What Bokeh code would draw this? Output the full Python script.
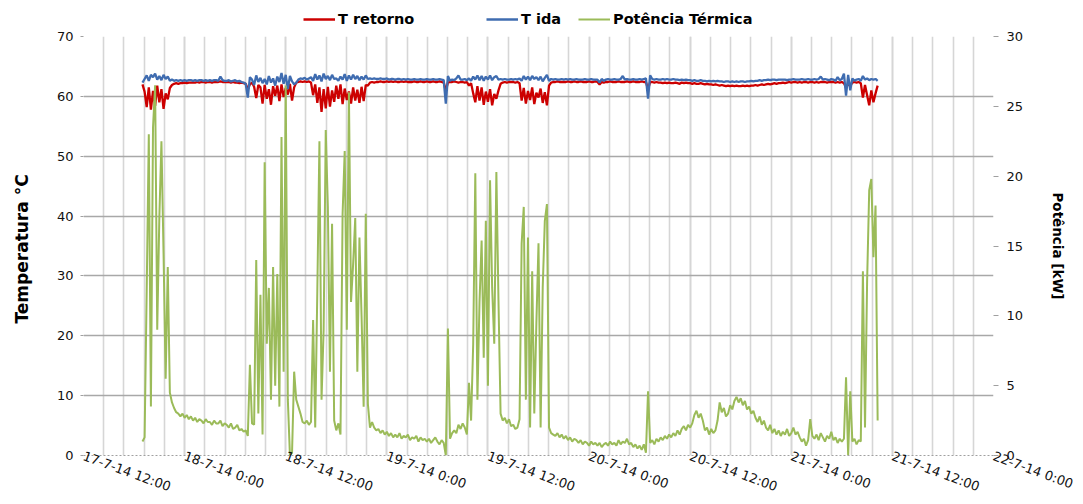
import numpy as np
from bokeh.plotting import figure
from bokeh.layouts import column
from bokeh.models import Range1d, LinearAxis, FixedTicker, Legend, LegendItem
from bokeh.embed import file_html
from bokeh.resources import INLINE

# time base: hours after 17-7-14 12:00, one reading every 15 minutes
start_hour = 7.0
step_hour = 0.25

# Potência Térmica [kW]
power = [
    1.0, 1.3, 11.8, 23.0, 3.5, 23.5, 26.5, 9.0,
    17.0, 22.5, 14.5, 5.5, 13.5, 4.5, 3.8, 3.4,
    3.1, 3.0, 2.8, 3.0, 2.7, 2.9, 2.6, 2.8,
    2.5, 2.7, 2.4, 2.6, 2.5, 2.3, 2.6, 2.4,
    2.4, 2.2, 2.5, 2.3, 2.3, 2.5, 2.1, 2.3,
    2.2, 2.0, 2.3, 1.9, 2.0, 2.2, 1.8, 1.9,
    1.7, 1.8, 1.4, 6.5, 2.3, 2.2, 14.0, 3.0,
    11.5, 1.5, 21.0, 8.0, 12.0, 4.0, 13.5, 5.0,
    13.0, 3.5, 22.8, 6.0, 26.5, 4.0, 0.0, 0.2,
    6.0, 4.0, 3.5, 3.0, 2.4, 2.3, 2.5, 2.2,
    2.4, 9.7, 2.0, 11.8, 22.5, 4.0, 9.0, 23.3,
    17.8, 6.0, 16.6, 2.5, 1.8, 2.3, 1.5, 17.3,
    21.8, 9.0, 26.0, 11.0, 13.7, 17.0, 6.0, 15.6,
    10.0, 3.5, 17.3, 3.7, 2.0, 2.4, 2.0, 1.8,
    1.9, 1.6, 1.8, 1.5, 1.7, 1.4, 1.6, 1.3,
    1.5, 1.3, 1.6, 1.2, 1.4, 1.3, 1.5, 1.1,
    1.3, 1.2, 1.4, 1.0, 1.3, 1.1, 1.2, 1.0,
    1.2, 0.9, 1.1, 1.3, 1.0, 0.8, 1.1, 0.9,
    0.0, 9.1, 1.2, 1.6, 1.8, 1.6, 2.2, 1.9,
    2.3, 2.0, 1.5, 5.2, 2.5, 8.0, 20.2, 4.0,
    11.0, 15.4, 7.0, 16.8, 5.0, 19.7, 12.0, 8.0,
    20.3, 11.1, 3.0, 2.5, 2.7, 2.3, 2.6, 2.1,
    2.2, 1.9, 2.0, 2.6, 15.2, 17.8, 4.0, 15.6,
    2.0, 13.2, 3.0, 9.5, 15.2, 2.0, 12.0, 16.8,
    18.0, 2.0, 1.6, 1.5, 1.4, 1.6, 1.3, 1.5,
    1.2, 1.4, 1.1, 1.3, 1.0, 1.2, 1.1, 0.9,
    1.1, 0.8, 1.0, 0.9, 0.7, 1.0, 0.8, 0.9,
    0.7, 0.9, 0.6, 0.8, 0.9, 0.7, 1.0, 0.8,
    0.9, 0.7, 1.1, 0.8, 1.0, 0.9, 1.2, 0.8,
    0.9, 0.6, 0.8, 0.5, 0.7, 0.4, 0.8, 0.2,
    4.6, 0.9, 1.1, 0.8, 1.2, 1.0, 1.3, 1.1,
    1.4, 1.2, 1.5, 1.3, 1.6, 1.4, 1.8, 1.5,
    1.9, 2.1, 1.8, 2.2, 2.0, 2.3, 2.9, 3.2,
    2.7, 3.0, 2.5, 1.8, 2.0, 1.5, 1.9, 1.6,
    1.8, 2.5, 3.8, 3.1, 3.4, 2.8, 3.0, 3.6,
    3.3, 3.9, 4.2, 3.8, 4.1, 3.6, 3.9, 3.3,
    3.5, 3.0, 3.2, 2.7, 2.4, 2.8, 2.2, 2.5,
    2.0, 1.8, 2.2, 1.6, 1.9, 1.5, 1.8, 1.4,
    1.7, 1.5, 1.9, 1.4, 1.6, 2.0, 1.5, 1.7,
    1.3, 1.0, 1.2, 0.7, 1.1, 2.6, 1.4, 1.2,
    1.5, 1.1, 1.6, 1.3, 1.0, 1.4, 1.2, 1.7,
    1.1, 1.3, 0.9, 1.2, 1.0, 1.2, 5.6, 0.0,
    4.6, 1.0, 1.2, 0.8, 1.1, 1.0, 13.2, 2.0,
    12.5, 19.0, 19.8, 14.2, 17.9, 2.5,
]

# T ida [°C]
t_ida = [
    62.3, 62.9, 63.5, 62.6, 63.6, 63.2, 63.8, 62.8,
    63.4, 62.7, 63.6, 62.9, 63.3, 62.6, 62.8, 62.6,
    62.7, 62.6, 62.7, 62.6, 62.7, 62.6, 62.7, 62.7,
    62.6, 62.7, 62.6, 62.7, 62.7, 62.6, 62.7, 62.6,
    62.7, 62.6, 62.7, 62.7, 62.6, 63.3, 62.7, 62.6,
    62.6, 62.7, 62.5, 62.6, 62.7, 62.5, 62.6, 62.4,
    62.3, 62.1, 59.8, 63.2, 62.8, 61.9, 63.5, 62.4,
    63.1, 62.2, 62.9, 62.0, 63.4, 62.3, 63.0, 61.8,
    63.3, 62.4, 63.9, 62.1, 63.6, 61.2, 63.4, 62.5,
    62.0, 62.3, 62.8, 63.0, 62.9, 63.1, 62.8, 63.0,
    63.2, 62.6, 63.7, 62.8, 63.5, 62.5, 63.8, 62.9,
    63.4, 62.7, 63.6, 62.9, 63.0, 62.6, 63.3, 62.8,
    63.7, 62.6, 63.5, 62.8, 63.6, 62.9, 63.4, 62.7,
    63.3, 62.8, 63.5, 62.9, 63.0, 62.9, 63.0, 62.9,
    62.9, 63.0, 62.9, 62.9, 63.0, 62.8, 62.9, 62.9,
    62.8, 62.9, 62.9, 62.8, 62.9, 62.8, 62.9, 62.8,
    62.8, 62.9, 62.8, 62.8, 62.9, 62.8, 62.8, 62.9,
    62.8, 62.8, 62.9, 62.8, 62.8, 62.9, 62.8, 62.7,
    58.8, 63.4, 62.6, 62.8, 62.7, 63.0, 63.5, 62.8,
    62.8, 62.9, 62.7, 63.0, 62.6, 63.3, 62.8, 63.5,
    62.7, 63.4, 62.6, 63.3, 62.8, 63.5, 62.7, 63.2,
    63.4, 62.8, 62.9, 62.8, 62.9, 62.8, 62.8, 62.9,
    62.8, 62.9, 62.8, 63.0, 62.6, 63.4, 62.8, 63.3,
    62.7, 63.4, 62.9, 63.2, 62.7, 63.3, 62.5, 63.1,
    63.6, 62.6, 62.9, 62.8, 62.9, 62.8, 62.8, 62.9,
    62.8, 62.9, 62.8, 62.9, 62.8, 62.8, 62.9, 62.8,
    62.8, 62.8, 62.9, 62.8, 62.8, 62.9, 62.8, 62.8,
    62.8, 62.3, 62.9, 62.6, 62.8, 62.9, 62.8, 62.8,
    62.9, 62.8, 62.8, 62.9, 63.4, 62.8, 62.9, 62.8,
    62.8, 62.9, 62.8, 62.8, 62.9, 62.8, 62.9, 63.0,
    59.6, 63.5, 62.9, 62.8, 62.9, 62.8, 62.8, 62.9,
    62.8, 62.9, 62.8, 62.8, 62.9, 62.8, 62.8, 62.7,
    62.8, 62.7, 62.8, 62.7, 62.7, 62.6, 62.7, 62.6,
    62.6, 62.7, 62.6, 62.6, 62.5, 62.6, 62.5, 62.6,
    62.5, 62.6, 62.5, 62.5, 62.4, 62.5, 62.5, 62.4,
    62.5, 62.4, 62.5, 62.4, 62.5, 62.5, 62.4, 62.5,
    62.5, 62.6, 62.5, 62.6, 62.6, 62.7, 62.6, 62.7,
    62.7, 62.8, 62.7, 62.8, 62.8, 62.7, 62.8, 62.8,
    62.8, 62.8, 62.7, 62.8, 62.8, 62.9, 62.8, 62.8,
    62.8, 62.9, 62.8, 62.8, 62.9, 62.8, 62.8, 62.9,
    62.8, 62.9, 63.3, 62.8, 62.9, 62.8, 62.7, 62.9,
    62.8, 62.6, 63.2, 62.7, 62.9, 63.8, 60.1, 63.6,
    61.0, 63.0, 62.6, 62.8, 62.9, 62.6, 63.4, 62.8,
    63.0, 62.7, 62.9, 62.8, 62.9, 62.6,
]

# T retorno [°C]
t_ret = [
    62.0, 60.8, 58.2, 61.5, 57.8, 60.9, 58.4, 61.8,
    59.0, 61.2, 57.9, 60.5, 59.5, 61.4, 61.9, 62.1,
    62.2, 62.1, 62.2, 62.2, 62.3, 62.2, 62.3, 62.3,
    62.3, 62.3, 62.4, 62.3, 62.4, 62.4, 62.3, 62.4,
    62.4, 62.3, 62.4, 62.4, 62.4, 62.5, 62.4, 62.4,
    62.4, 62.4, 62.3, 62.4, 62.3, 62.3, 62.2, 62.3,
    62.2, 62.1, 61.2, 62.0, 62.3, 61.6, 59.7, 61.9,
    61.5, 58.8, 61.9, 59.6, 61.2, 58.6, 61.7, 60.1,
    61.8, 59.2, 62.0, 59.9, 61.4, 60.3, 62.1, 59.3,
    61.5, 62.3, 62.4, 62.5, 62.4, 62.5, 62.4, 62.5,
    62.3, 60.2, 62.0, 58.9, 61.5, 57.4, 61.2, 58.0,
    61.6, 58.3, 61.0, 59.1, 61.8, 59.6, 62.0, 58.7,
    61.3, 59.4, 60.8, 58.8, 61.5, 59.3, 61.1, 58.9,
    61.6, 59.2, 61.9, 61.8, 62.3, 62.4, 62.3, 62.4,
    62.4, 62.5, 62.4, 62.4, 62.5, 62.4, 62.5, 62.4,
    62.5, 62.4, 62.4, 62.5, 62.4, 62.5, 62.4, 62.4,
    62.4, 62.5, 62.4, 62.4, 62.5, 62.4, 62.4, 62.5,
    62.4, 62.4, 62.5, 62.4, 62.4, 62.5, 62.4, 62.3,
    61.0, 62.3, 62.4, 62.4, 62.5, 62.4, 62.3, 62.4,
    62.4, 62.3, 62.4, 61.8, 62.2, 60.5, 59.0, 61.7,
    59.3, 61.5, 58.6, 60.8, 59.1, 61.2, 58.5, 60.4,
    59.6, 61.0, 62.1, 62.3, 62.4, 62.3, 62.4, 62.4,
    62.4, 62.3, 62.4, 62.2, 59.3, 61.4, 58.8, 60.9,
    59.4, 61.5, 58.7, 60.6, 59.8, 61.3, 58.9, 60.7,
    58.5, 61.8, 62.3, 62.4, 62.4, 62.5, 62.4, 62.4,
    62.4, 62.4, 62.5, 62.4, 62.4, 62.5, 62.4, 62.4,
    62.5, 62.4, 62.4, 62.4, 62.5, 62.4, 62.4, 62.5,
    62.4, 62.0, 62.4, 62.3, 62.4, 62.4, 62.5, 62.4,
    62.4, 62.4, 62.5, 62.4, 62.4, 62.4, 62.5, 62.4,
    62.4, 62.5, 62.4, 62.4, 62.4, 62.5, 62.4, 62.4,
    61.2, 62.4, 62.4, 62.3, 62.4, 62.3, 62.3, 62.2,
    62.3, 62.2, 62.3, 62.2, 62.2, 62.3, 62.2, 62.1,
    62.3, 62.2, 62.3, 62.2, 62.2, 62.1, 62.2, 62.1,
    62.1, 62.2, 62.1, 62.0, 62.1, 62.0, 62.0, 61.9,
    62.0, 61.9, 61.8, 61.9, 61.8, 61.7, 61.8, 61.7,
    61.8, 61.7, 61.8, 61.7, 61.7, 61.8, 61.7, 61.8,
    61.7, 61.8, 61.8, 61.9, 61.8, 61.9, 62.0, 61.9,
    62.0, 62.1, 62.0, 62.1, 62.2, 62.1, 62.2, 62.2,
    62.3, 62.2, 62.3, 62.4, 62.3, 62.4, 62.4, 62.3,
    62.4, 62.3, 62.4, 62.4, 62.3, 62.4, 62.4, 62.3,
    62.4, 62.3, 62.4, 62.4, 62.4, 62.3, 62.4, 62.4,
    62.4, 62.3, 62.4, 62.3, 62.4, 62.2, 61.5, 62.0,
    61.8, 62.3, 62.4, 62.3, 62.4, 62.2, 59.8, 61.9,
    60.2, 58.5, 61.0, 59.0, 60.5, 61.8,
]

series_names = ["T retorno", "T ida", "Potência Térmica"]
series_colors = ["#CC0000", "#3F6CB0", "#9BBB59"]

x_ticks = [0, 12, 24, 36, 48, 60, 72, 84, 96, 108]
x_labels = ["17-7-14 12:00", "18-7-14 0:00", "18-7-14 12:00", "19-7-14 0:00",
            "19-7-14 12:00", "20-7-14 0:00", "20-7-14 12:00", "21-7-14 0:00",
            "21-7-14 12:00", "22-7-14 0:00"]
left_ticks = [0, 10, 20, 30, 40, 50, 60, 70]
right_ticks = [0, 5, 10, 15, 20, 25, 30]

n = min(len(power), len(t_ida), len(t_ret))
hours = start_hour + step_hour * np.arange(n)

FONT = "DejaVu Sans"
NAN = float("nan")

# ---------- legend strip above the chart (frame aligned with the chart's frame) ----------
leg_fig = figure(width=1083, height=28, x_range=Range1d(0, 1), y_range=Range1d(0, 1),
                 output_backend="svg", toolbar_location=None,
                 x_axis_location=None, y_axis_location=None,
                 min_border_left=0, min_border_right=0, min_border_top=0, min_border_bottom=0)
leg_fig.outline_line_color = None
leg_fig.grid.visible = False
leg_x = [220, 403, 495]   # offsets from the chart frame's left edge
leg_widths = [2.3, 2.3, 2.0]
for name, color, lx, lw in zip(series_names, series_colors, leg_x, leg_widths):
    sample = leg_fig.line(x=[NAN], y=[NAN], line_color=color, line_width=lw)
    lg = Legend(items=[LegendItem(label=name, renderers=[sample])], location=(lx, 0),
                orientation="horizontal", padding=0, margin=0, spacing=0,
                border_line_color=None, background_fill_alpha=0,
                label_text_font=FONT, label_text_font_style="bold",
                label_text_font_size="14.5px", label_text_color="#000000",
                glyph_width=32, glyph_height=18, label_height=18, label_width=10,
                label_standoff=3)
    leg_fig.add_layout(lg)

# ---------- main chart ----------
p = figure(width=1083, height=476, x_range=Range1d(0, 108), y_range=Range1d(0, 70),
           output_backend="svg", toolbar_location=None,
           min_border_left=83, min_border_right=90, min_border_top=8, min_border_bottom=49)
p.extra_y_ranges = {"pw": Range1d(0, 30)}
p.outline_line_color = None

grid_ticks = list(np.arange(0, 108.01, 2.4))
p.xaxis.ticker = FixedTicker(ticks=x_ticks, minor_ticks=grid_ticks)
p.xaxis.major_label_overrides = dict(zip(x_ticks, x_labels))
p.xaxis.major_label_orientation = -0.35
p.yaxis.ticker = FixedTicker(ticks=left_ticks)
p.yaxis.axis_label = "Temperatura  °C"

right = LinearAxis(y_range_name="pw", ticker=FixedTicker(ticks=right_ticks),
                   axis_label="Potência [kW]")
p.add_layout(right, "right")

p.xgrid.grid_line_color = "#d6d6d6"
p.xgrid.grid_line_width = 1.6
p.xgrid.minor_grid_line_color = "#d6d6d6"
p.xgrid.minor_grid_line_width = 1.6
p.ygrid.ticker = FixedTicker(ticks=left_ticks[1:])
p.ygrid.grid_line_color = "#a8a8a8"
p.ygrid.grid_line_width = 1.6

for ax in (p.xaxis[0], p.yaxis[0], right):
    ax.major_label_text_font = FONT
    ax.major_label_text_font_size = "13px"
    ax.major_label_text_color = "#111111"
    ax.axis_label_text_font = FONT
    ax.axis_label_text_font_style = "bold"
    ax.axis_label_text_color = "#000000"
    ax.minor_tick_in = 0
    ax.minor_tick_out = 0
    ax.major_tick_in = 0
    ax.major_tick_line_color = "#a0a0a0"
    ax.axis_line_color = "#a0a0a0"

p.xaxis.axis_line_dash = "2 2"
p.xaxis.major_tick_out = 0
p.xaxis.major_label_standoff = 0
p.yaxis.major_tick_out = 3
p.yaxis.major_label_standoff = 7
p.yaxis.axis_line_color = None
p.yaxis.axis_label_text_font_size = "17px"
p.yaxis.axis_label_standoff = 22
right.major_tick_out = 5
right.major_label_standoff = 8
right.axis_label_text_font_size = "13.5px"
right.axis_label_standoff = 24

p.line(hours, t_ret[:n], line_color=series_colors[0], line_width=2.3)
p.line(hours, t_ida[:n], line_color=series_colors[1], line_width=2.3)
p.line(hours, power[:n], line_color=series_colors[2], line_width=2, y_range_name="pw")

layout = column(leg_fig, p, spacing=0)
open("out.html", "w").write(file_html(layout, INLINE))
